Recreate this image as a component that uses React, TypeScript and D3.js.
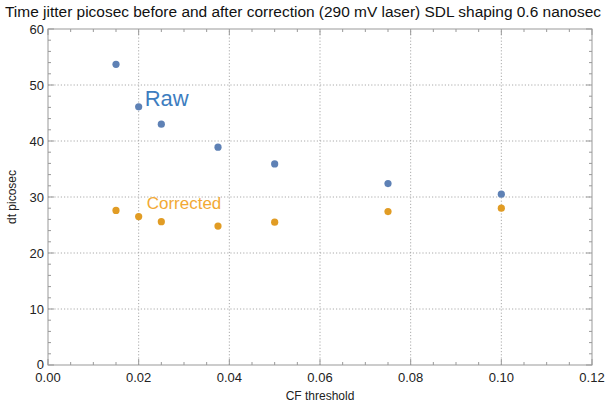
import React, { useEffect, useRef } from "react";
import * as d3 from "d3";

const cfThreshold = [0.015, 0.02, 0.025, 0.0375, 0.05, 0.075, 0.1];
const rawJitter = [53.7, 46.1, 43.0, 38.9, 35.9, 32.4, 30.5];
const correctedJitter = [27.6, 26.5, 25.6, 24.8, 25.5, 27.4, 28.0];
const xTicks = [0, 0.02, 0.04, 0.06, 0.08, 0.1, 0.12];
const yTicks = [0, 10, 20, 30, 40, 50, 60];

const W = 610;
const H = 405;
const margin = { top: 29, right: 18, bottom: 40, left: 48 };
const FONT = "'Liberation Sans', Arial, Helvetica, sans-serif";

function renderChart(el: SVGSVGElement) {
  const svg = d3.select(el);
  svg.selectAll("*").remove();

  const x = d3.scaleLinear().domain([0, 0.12]).range([margin.left, W - margin.right]);
  const y = d3.scaleLinear().domain([0, 60]).range([H - margin.bottom, margin.top]);

  // gridlines
  const grid = svg.append("g");
  grid
    .selectAll("line.vg")
    .data(xTicks.slice(1, -1))
    .enter()
    .append("line")
    .attr("x1", (d) => x(d))
    .attr("x2", (d) => x(d))
    .attr("y1", y(0))
    .attr("y2", y(60))
    .attr("stroke", "#aaa")
    .attr("stroke-width", 1)
    .attr("stroke-dasharray", "1.2,2");
  grid
    .selectAll("line.hg")
    .data(yTicks.slice(1, -1))
    .enter()
    .append("line")
    .attr("x1", x(0))
    .attr("x2", x(0.12))
    .attr("y1", (d) => y(d))
    .attr("y2", (d) => y(d))
    .attr("stroke", "#aaa")
    .attr("stroke-width", 1)
    .attr("stroke-dasharray", "1.2,2");

  // frame
  svg
    .append("rect")
    .attr("x", x(0))
    .attr("y", y(60))
    .attr("width", x(0.12) - x(0))
    .attr("height", y(0) - y(60))
    .attr("fill", "none")
    .attr("stroke", "#999")
    .attr("stroke-width", 1);

  // ticks on all four sides
  const xMinor = d3.range(0, 0.1201, 0.005);
  const yMinor = d3.range(0, 60.01, 2);
  const ticks = svg.append("g").attr("stroke", "#999").attr("stroke-width", 1);
  xMinor.forEach((v, i) => {
    const len = i % 4 === 0 ? 6 : 3;
    ticks.append("line").attr("x1", x(v)).attr("x2", x(v)).attr("y1", y(0)).attr("y2", y(0) - len);
    ticks.append("line").attr("x1", x(v)).attr("x2", x(v)).attr("y1", y(60)).attr("y2", y(60) + len);
  });
  yMinor.forEach((v, i) => {
    const len = i % 5 === 0 ? 6 : 3;
    ticks.append("line").attr("x1", x(0)).attr("x2", x(0) + len).attr("y1", y(v)).attr("y2", y(v));
    ticks.append("line").attr("x1", x(0.12)).attr("x2", x(0.12) - len).attr("y1", y(v)).attr("y2", y(v));
  });

  // tick labels
  svg
    .append("g")
    .selectAll("text")
    .data(xTicks)
    .enter()
    .append("text")
    .attr("x", (d) => x(d))
    .attr("y", y(0) + 17)
    .attr("text-anchor", "middle")
    .attr("font-family", FONT)
    .attr("font-size", 13)
    .attr("fill", "#222")
    .text((d) => d3.format(".2f")(d));
  svg
    .append("g")
    .selectAll("text")
    .data(yTicks)
    .enter()
    .append("text")
    .attr("x", x(0) - 4)
    .attr("y", (d) => y(d) + (d === 0 ? 3.5 : 4.5))
    .attr("text-anchor", "end")
    .attr("font-family", FONT)
    .attr("font-size", 13)
    .attr("fill", "#222")
    .text((d) => d);

  // axis labels
  svg
    .append("text")
    .attr("x", (x(0) + x(0.12)) / 2)
    .attr("y", H - 5)
    .attr("text-anchor", "middle")
    .attr("font-family", FONT)
    .attr("font-size", 12)
    .attr("fill", "#222")
    .text("CF threshold");
  svg
    .append("text")
    .attr("transform", `translate(16,${(y(0) + y(60)) / 2}) rotate(-90)`)
    .attr("text-anchor", "middle")
    .attr("font-family", FONT)
    .attr("font-size", 12)
    .attr("fill", "#222")
    .text("dt picosec");

  // title
  svg
    .append("text")
    .attr("x", 5)
    .attr("y", 17)
    .attr("font-family", FONT)
    .attr("font-size", 15.3)
    .attr("textLength", 596)
    .attr("lengthAdjust", "spacingAndGlyphs")
    .attr("fill", "#111")
    .text("Time jitter picosec before and after correction (290 mV laser) SDL shaping 0.6 nanosec");

  // points
  const series = [
    { values: rawJitter, color: "#5e81b5" },
    { values: correctedJitter, color: "#e19c24" },
  ];
  series.forEach((s) => {
    svg
      .append("g")
      .selectAll("circle")
      .data(cfThreshold)
      .enter()
      .append("circle")
      .attr("cx", (d) => x(d))
      .attr("cy", (d, i) => y(s.values[i]))
      .attr("r", 3.6)
      .attr("fill", s.color);
  });

  // labels
  svg
    .append("text")
    .attr("x", x(0.02) + 6)
    .attr("y", y(46.1) - 1)
    .attr("font-family", FONT)
    .attr("font-size", 22)
    .attr("fill", "#3d7dc0")
    .text("Raw");
  svg
    .append("text")
    .attr("x", x(0.02) + 8)
    .attr("y", y(26.5) - 8)
    .attr("font-family", FONT)
    .attr("font-size", 17)
    .attr("fill", "#f2a935")
    .text("Corrected");
}

export default function App() {
  const ref = useRef<SVGSVGElement>(null);
  useEffect(() => {
    if (ref.current) renderChart(ref.current);
  }, []);
  return (
    <svg
      ref={ref}
      width={W}
      height={H}
      style={{ position: "absolute", left: 0, top: 0, background: "#fff" }}
    />
  );
}
